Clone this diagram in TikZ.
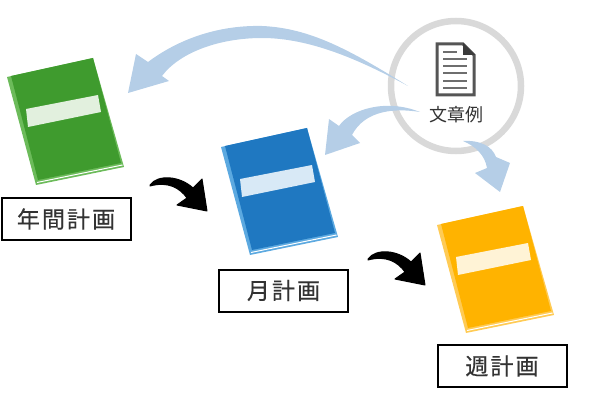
\documentclass[tikz,border=0pt]{standalone}
\usepackage{fontspec}
\setmainfont{Noto Sans CJK JP}
\newfontfamily\planfont[LetterSpace=9,FakeBold=0.4]{Noto Sans CJK JP}
\definecolor{verde}{HTML}{3F9B2E}
\definecolor{verdeclaro}{HTML}{6CBB5A}
\definecolor{verdetinta}{HTML}{E2F0DE}
\definecolor{azul}{HTML}{1F78C1}
\definecolor{azulclaro}{HTML}{5CA9E0}
\definecolor{azultinta}{HTML}{D8E9F6}
\definecolor{naranja}{HTML}{FFB300}
\definecolor{naranjaclaro}{HTML}{FFCB55}
\definecolor{naranjatinta}{HTML}{FFF3D6}
\definecolor{flecha}{HTML}{B5CEE7}
\definecolor{aro}{HTML}{D9D9D9}
\definecolor{icono}{HTML}{555555}
\tikzset{
  planbox/.style={draw=black,line width=2pt,fill=white,minimum width=129pt,minimum height=42pt,inner sep=0pt,font=\planfont\fontsize{23}{23}\selectfont,text=black!80},
  docline/.style={draw=icono!85,line width=2.2pt},
}
\newcommand{\drawbook}[5]{%
  \begin{scope}[shift={(#1,#2)}]
    \fill[#4] (7,77) -- (93,58) -- (124,167) -- (36,185) -- cycle;
    \fill[#3] (11,76) -- (93,58) -- (121,163) -- (38,180) -- cycle;
    \draw[white,line width=1pt] (37,182.5) -- (122.5,165);
    \fill[#5] (26,109) -- (98,95) -- (101,112) -- (28,127) -- cycle;
  \end{scope}}
\newcommand{\drawturn}[2]{%
  \filldraw[black,line width=1pt,line join=round,shift={(#1,#2)}] (150,185) .. controls (158,174) and (180,176) .. (193,188) -- (202,179) -- (207,211) -- (177,205) -- (187,198) .. controls (180,188) and (168,181) .. (150,186) -- cycle;}
\begin{document}
\begin{tikzpicture}[x=1pt,y=-1pt]
  \useasboundingbox (0,0) rectangle (600,401);
  % Libros
  \drawbook{0}{0}{verde}{verdeclaro}{verdetinta}
  \drawbook{214}{70}{azul}{azulclaro}{azultinta}
  \drawbook{430}{148}{naranja}{naranjaclaro}{naranjatinta}
  % Etiquetas
  \node[planbox] (nenkan) at (66,219) {年間計画};
  \node[planbox] (tsuki) at (283.5,290.5) {月計画};
  \node[planbox] (shu) at (502,366) {週計画};
  % Flechas negras
  \drawturn{0}{0}
  \drawturn{218}{74}
  % Aro
  \node[draw=aro,line width=6.5pt,circle,minimum size=130pt,inner sep=0pt] (aro) at (456,86) {};
  % Icono
  \draw[icono,line width=3pt,fill=white] (437,44) -- (463,44) -- (474,55) -- (474,95) -- (437,95) -- cycle;
  \fill[icono!70!black] (463,43) -- (475,55) -- (463,55) -- cycle;
  \draw[docline] (443,52) -- (457,52);
  \foreach \y in {59,66,73,81,88}
    \draw[docline] (443,\y) -- (467,\y);
  \node[font=\fontsize{18}{18}\selectfont,text=black!80,inner sep=0pt] (ejemplo) at (456,115) {文章例};
  % Flechas azules
  \fill[flecha] (128,93) -- (136,54) -- (148,62) .. controls (180,38) and (220,25) .. (262,26) .. controls (310,28) and (350,50) .. (408,86) .. controls (360,60) and (310,38) .. (262,38) .. controls (220,38) and (180,52) .. (162,76) -- (169,81) -- cycle;
  \fill[flecha] (325,155) -- (329,119) -- (339,126) .. controls (350,110) and (385,98) .. (420,112) .. controls (395,108) and (365,110) .. (352,135) -- (360,143) -- cycle;
  \fill[flecha] (463,141) .. controls (480,140) and (492,146) .. (496,157) -- (510,163) -- (500,192) -- (475,173) -- (487,168) .. controls (485,155) and (475,146) .. (463,141) -- cycle;
\end{tikzpicture}
\end{document}
